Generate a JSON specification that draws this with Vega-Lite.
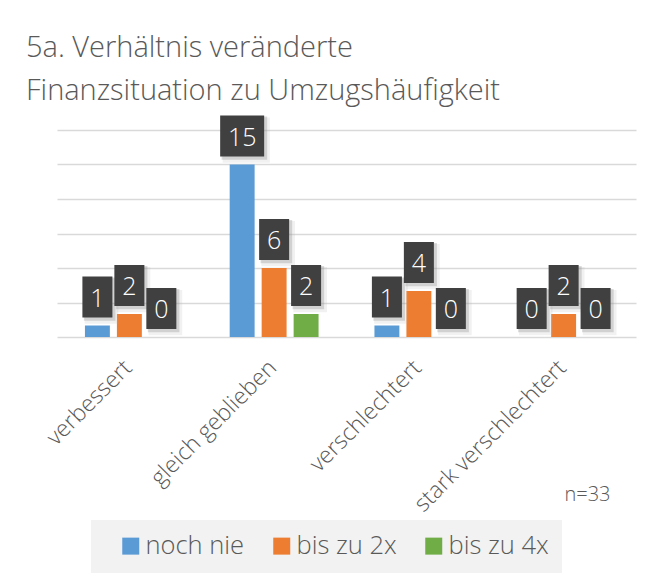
{
  "$schema": "https://vega.github.io/schema/vega-lite/v6.json",
  "width": 579,
  "height": 207,
  "autosize": {"type": "none"},
  "padding": {"left": 57, "top": 130, "right": 10, "bottom": 246},
  "background": "white",
  "title": {
    "text": ["5a. Verhältnis veränderte", "Finanzsituation zu Umzugshäufigkeit"],
    "anchor": "start",
    "frame": "group",
    "dx": -31,
    "offset": -19,
    "fontSize": 29,
    "fontWeight": 300,
    "font": "Open Sans",
    "color": "#595959",
    "lineHeight": 43,
    "baseline": "bottom"
  },
  "data": {
    "values": [
      {"cat": "verbessert", "series": "noch nie", "value": 1},
      {"cat": "verbessert", "series": "bis zu 2x", "value": 2},
      {"cat": "verbessert", "series": "bis zu 4x", "value": 0},
      {"cat": "gleich geblieben", "series": "noch nie", "value": 15},
      {"cat": "gleich geblieben", "series": "bis zu 2x", "value": 6},
      {"cat": "gleich geblieben", "series": "bis zu 4x", "value": 2},
      {"cat": "verschlechtert", "series": "noch nie", "value": 1},
      {"cat": "verschlechtert", "series": "bis zu 2x", "value": 4},
      {"cat": "verschlechtert", "series": "bis zu 4x", "value": 0},
      {"cat": "stark verschlechtert", "series": "noch nie", "value": 0},
      {"cat": "stark verschlechtert", "series": "bis zu 2x", "value": 2},
      {"cat": "stark verschlechtert", "series": "bis zu 4x", "value": 0}
    ]
  },
  "encoding": {
    "x": {
      "field": "cat",
      "type": "nominal",
      "sort": ["verbessert", "gleich geblieben", "verschlechtert", "stark verschlechtert"],
      "scale": {"paddingInner": 0.386, "paddingOuter": 0.193},
      "axis": {
        "title": "n=33",
        "titleX": 553,
        "titleY": 163,
        "titleAlign": "right",
        "titleBaseline": "alphabetic",
        "titleFontSize": 20,
        "titleFontWeight": 300,
        "titleFont": "Open Sans",
        "titleColor": "#595959",
        "labelAngle": -45,
        "labelAlign": "right",
        "labelBaseline": "top",
        "labelPadding": 19,
        "labelOffset": -9,
        "labelFontSize": 23,
        "labelFont": "Open Sans",
        "labelFontWeight": 300,
        "labelColor": "#595959",
        "ticks": false,
        "domain": false,
        "grid": false,
        "labelLimit": 400
      }
    },
    "xOffset": {
      "field": "series",
      "type": "nominal",
      "sort": ["noch nie", "bis zu 2x", "bis zu 4x"],
      "scale": {"paddingInner": 0.22, "paddingOuter": 0}
    },
    "y": {
      "field": "value",
      "type": "quantitative",
      "scale": {"domain": [0, 18], "nice": false},
      "axis": {
        "title": null,
        "labels": false,
        "ticks": false,
        "domain": false,
        "grid": true,
        "gridColor": "#d9d9d9",
        "gridWidth": 1.3,
        "values": [0, 3, 6, 9, 12, 15, 18]
      }
    }
  },
  "layer": [
    {
      "mark": {"type": "bar"},
      "encoding": {
        "color": {
          "field": "series",
          "type": "nominal",
          "scale": {
            "domain": ["noch nie", "bis zu 2x", "bis zu 4x"],
            "range": ["#5b9bd5", "#ed7d31", "#70ad47"]
          },
          "legend": {
            "title": null,
            "orient": "none",
            "direction": "horizontal",
            "legendX": 34,
            "legendY": 390,
            "padding": 13,
            "fillColor": "#f2f2f2",
            "symbolType": "square",
            "symbolSize": 289,
            "symbolOpacity": 1,
            "symbolStrokeWidth": 0,
            "symbolOffset": 14,
            "labelFontSize": 25.5,
            "labelFont": "Open Sans",
            "labelFontWeight": 300,
            "labelColor": "#595959",
            "labelOffset": 2,
            "columnPadding": 10
          }
        }
      }
    },
    {
      "mark": {"type": "point", "filled": true, "color": "#b0b0b0", "opacity": 0.18, "size": 1681, "yOffset": -28.5, "strokeWidth": 0},
      "encoding": {
        "shape": {
          "condition": {"test": "datum.value >= 10", "value": "M-0.95,-0.9H1.35V1.3H-0.95Z"},
          "value": "M-0.62,-0.9H1.02V1.3H-0.62Z"
        }
      }
    },
    {
      "mark": {"type": "point", "filled": true, "color": "#888888", "opacity": 0.3, "size": 1681, "yOffset": -28.5, "strokeWidth": 0},
      "encoding": {
        "shape": {
          "condition": {"test": "datum.value >= 10", "value": "M-1.0,-0.95H1.22V1.16H-1.0Z"},
          "value": "M-0.66,-0.95H0.88V1.16H-0.66Z"
        }
      }
    },
    {
      "mark": {"type": "point", "filled": true, "color": "#404040", "opacity": 1, "size": 1681, "yOffset": -28.5, "strokeWidth": 0},
      "encoding": {
        "shape": {
          "condition": {"test": "datum.value >= 10", "value": "M-1.073,-1H1.073V1H-1.073Z"},
          "value": "M-0.732,-1H0.732V1H-0.732Z"
        }
      }
    },
    {
      "mark": {"type": "text", "color": "white", "fontSize": 25, "font": "Open Sans", "fontWeight": 300, "baseline": "middle", "dy": -27},
      "encoding": {
        "text": {"field": "value", "type": "quantitative"}
      }
    }
  ],
  "config": {
    "view": {"stroke": null},
    "font": "Open Sans"
  }
}
